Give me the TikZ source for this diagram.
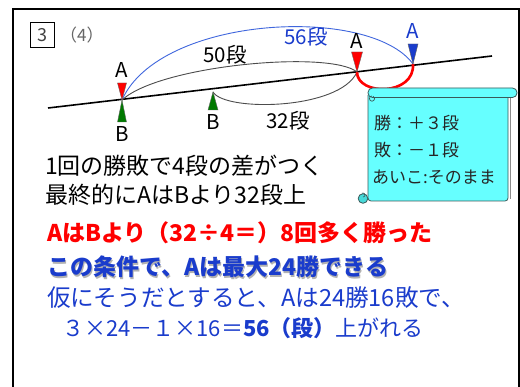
\documentclass[tikz,border=0pt]{standalone}
\usepackage{fontspec}
\setmainfont{Noto Sans CJK JP}
\usetikzlibrary{calc}
\definecolor{myred}{HTML}{FF0000}
\definecolor{myblue}{HTML}{1A3CCC}
\definecolor{curveblue}{HTML}{3F66DD}
\definecolor{mygreen}{HTML}{007A00}
\definecolor{scrollfill}{HTML}{66FFFF}
\definecolor{scrolledge}{HTML}{3A5A5A}
\tikzset{
  lbl/.style={font=\fontsize{20.5}{21}\selectfont, inner sep=0pt},
  maintext/.style={font=\fontsize{23}{24}\selectfont, anchor=west, inner sep=0pt},
  scrolltext/.style={font=\fontsize{17}{18}\selectfont, anchor=west, inner sep=0pt, text=black!85},
  curve/.style={line width=0.9pt, black!70},
}
\begin{document}
\begin{tikzpicture}[x=1pt,y=-1pt]
\useasboundingbox (0,0) rectangle (520,387);
\fill[white] (0,0) rectangle (520,387);
% frame
\draw[line width=2pt] (13,392) -- (13,9) -- (518.5,9) -- (518.5,392);
% header
\node[draw, line width=1.3pt, minimum width=24pt, minimum height=25pt, inner sep=0pt, font=\fontsize{18}{19}\selectfont, text=black!75] (num) at (42.5,35) {3};
\node[font=\fontsize{17}{18}\selectfont, text=black!60, anchor=west, inner sep=0pt] (part) at (60,35) {（4）};
% main line
\coordinate (L0) at (48,108);
\coordinate (L1) at (492,56);
\draw[line width=1.6pt] (L0) -- (L1);
% triangle tips
\coordinate (A1) at (122,100);
\coordinate (B2) at (213,92);
\coordinate (A2) at (357,72);
\coordinate (A3) at (413,64);
% curves
\draw[curveblue, line width=0.9pt] (A1) .. controls (160,15) and (370,5) .. (A3);
\draw[curve] (A1) .. controls (160,65) and (330,50) .. (A2);
\draw[curve] (B2) .. controls (225,112) and (340,110) .. (A2);
\draw[myred, line width=2.6pt] (A2) .. controls (357,96) and (415,96) .. (A3);
% triangles
\filldraw[fill=myred, draw=black!60, line width=0.4pt] ($(A1)+(-4.5,-17)$) -- (A1) -- ($(A1)+(4.5,-17)$) -- cycle;
\filldraw[fill=mygreen, draw=black!60, line width=0.4pt] ($(A1)+(-4.5,22)$) -- (A1) -- ($(A1)+(4.5,22)$) -- cycle;
\filldraw[fill=mygreen, draw=black!60, line width=0.4pt] ($(B2)+(-5,18)$) -- (B2) -- ($(B2)+(5,18)$) -- cycle;
\filldraw[fill=myred, draw=black!60, line width=0.4pt] ($(A2)+(-5.5,-20)$) -- (A2) -- ($(A2)+(5.5,-20)$) -- cycle;
\filldraw[fill=myblue, draw=black!60, line width=0.4pt] ($(A3)+(-5,-20)$) -- (A3) -- ($(A3)+(5,-20)$) -- cycle;
% labels
\node[lbl] (la1) at (122,70) {A};
\node[lbl] (lb1) at (122,134) {B};
\node[lbl] (lb2) at (213,122) {B};
\node[lbl] (la2) at (357,41) {A};
\node[lbl, text=myblue] (la3) at (413,31) {A};
\node[lbl] (l50) at (225,55) {50段};
\node[lbl, text=myblue] (l56) at (306,37) {56段};
\node[lbl] (l32) at (288,121) {32段};
% scroll
\filldraw[fill=scrollfill, draw=scrolledge, line width=0.8pt, rounded corners=3pt]
  (368,95) -- (368,201) -- (508,201) -- (508,95);
\draw[black!45, line width=1pt] (510,98) -- (510,199);
\filldraw[fill=scrollfill, draw=scrolledge, line width=0.8pt, rounded corners=4.5pt]
  (368,88) rectangle (517,97.5);
\draw[scrolledge, line width=0.7pt] (372,96) arc[start angle=270, end angle=-60, radius=2.6];
\filldraw[fill=scrollfill!70!teal, draw=scrolledge, line width=0.8pt] (363,198.5) circle[radius=4.8];
\draw[scrolledge, line width=0.6pt] (363,197) arc[start angle=90, end angle=-120, radius=2];
\node[scrolltext] (s1) at (374,123) {勝：＋３段};
\node[scrolltext] (s2) at (374,150) {敗：－１段};
\node[scrolltext] (s3) at (372,177) {あいこ:そのまま};
% main text
\node[maintext] (t1) at (45,166) {1回の勝敗で4段の差がつく};
\node[maintext] (t2) at (45,195) {最終的にAはBより32段上};
\node[maintext, text=myred, font=\fontsize{23}{24}\selectfont\bfseries] (t3) at (47,233) {AはBより（32÷4＝）8回多く勝った};
\node[maintext, text=black!30, font=\fontsize{23}{24}\selectfont\bfseries] at (48.3,268.3) {この条件で、Aは最大24勝できる};
\node[maintext, text=myblue, font=\fontsize{23}{24}\selectfont\bfseries] (t4) at (47,267) {この条件で、Aは最大24勝できる};
\node[maintext, text=myblue, font=\fontsize{23.6}{24}\selectfont] (t5) at (47,298) {仮にそうだとすると、Aは24勝16敗で、};
\node[maintext, text=myblue, font=\fontsize{22}{23}\selectfont] (t6) at (62,328) {３×24－１×16＝\textbf{56（段）}上がれる};
\end{tikzpicture}
\end{document}
